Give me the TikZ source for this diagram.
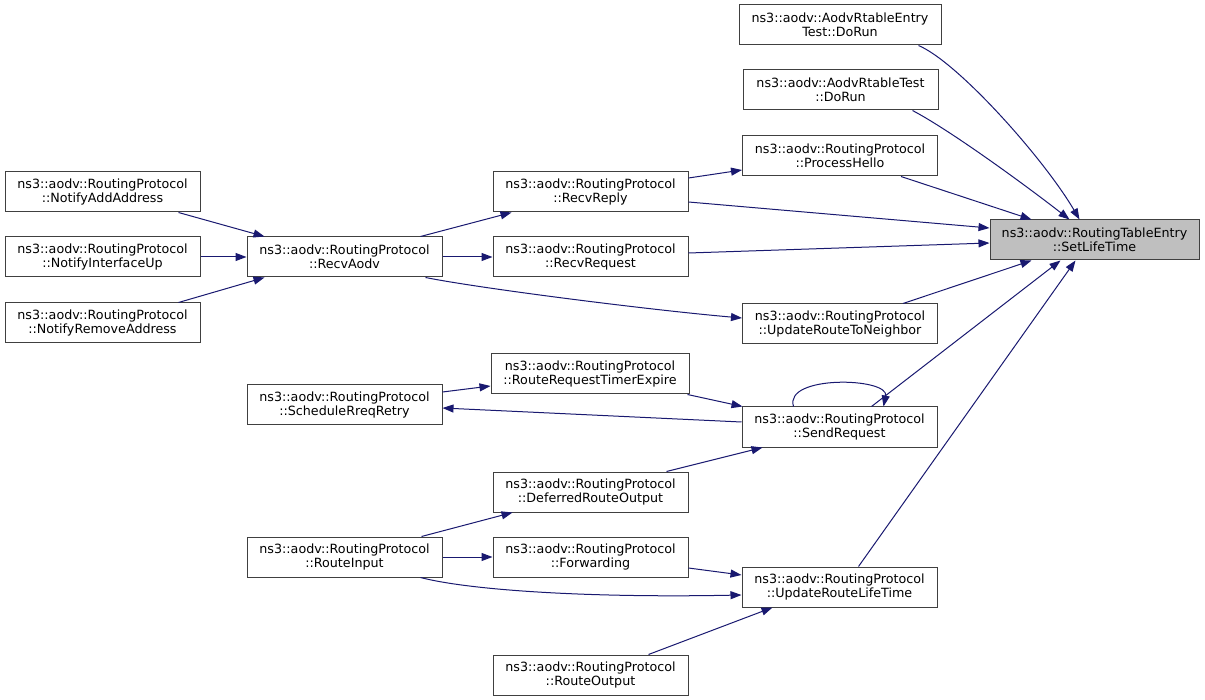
\documentclass[tikz,border=0pt]{standalone}
\usepackage{fontspec}
\setmainfont{DejaVu Sans}
\usetikzlibrary{arrows.meta}
\definecolor{edgeblue}{HTML}{191970}
\definecolor{boxgray}{HTML}{BFBFBF}
\definecolor{boxline}{HTML}{404040}
\begin{document}
\begin{tikzpicture}[x=1pt,y=-1pt,
  fn/.style={draw=boxline, fill=white, line width=1pt, inner sep=0pt, align=center,
    font=\fontsize{12.7}{14.5}\selectfont, minimum height=40pt, minimum width=195pt},
  calledge/.style={draw=edgeblue, line width=1pt, -{Triangle[length=11pt,width=8pt]}}]
\useasboundingbox[fill=white] (0,0) rectangle (1205,700);
% nodes
\node[fn, fill=boxgray, minimum width=209pt] (tgt) at (1094.5,240) {ns3::aodv::RoutingTableEntry\\::SetLifeTime};
\node[fn, minimum width=202pt] (eT) at (840,25) {ns3::aodv::AodvRtableEntry\\Test::DoRun};
\node[fn] (rT) at (840.5,90) {ns3::aodv::AodvRtableTest\\::DoRun};
\node[fn] (pH) at (840,156) {ns3::aodv::RoutingProtocol\\::ProcessHello};
\node[fn] (uN) at (840,324) {ns3::aodv::RoutingProtocol\\::UpdateRouteToNeighbor};
\node[fn] (nA) at (102.5,192) {ns3::aodv::RoutingProtocol\\::NotifyAddAddress};
\node[fn] (nI) at (102.5,257) {ns3::aodv::RoutingProtocol\\::NotifyInterfaceUp};
\node[fn] (nR) at (102.5,323) {ns3::aodv::RoutingProtocol\\::NotifyRemoveAddress};
\node[fn] (rA) at (344.5,257) {ns3::aodv::RoutingProtocol\\::RecvAodv};
\node[fn] (rRep) at (590.5,192) {ns3::aodv::RoutingProtocol\\::RecvReply};
\node[fn] (rReq) at (590.5,257) {ns3::aodv::RoutingProtocol\\::RecvRequest};
\node[fn, minimum width=198pt] (rTE) at (590,374) {ns3::aodv::RoutingProtocol\\::RouteRequestTimerExpire};
\node[fn] (sR) at (344.5,405) {ns3::aodv::RoutingProtocol\\::ScheduleRreqRetry};
\node[fn] (sQ) at (839.5,427) {ns3::aodv::RoutingProtocol\\::SendRequest};
\node[fn] (dR) at (590.5,492) {ns3::aodv::RoutingProtocol\\::DeferredRouteOutput};
\node[fn] (fw) at (590.5,557) {ns3::aodv::RoutingProtocol\\::Forwarding};
\node[fn] (rO) at (590.5,675) {ns3::aodv::RoutingProtocol\\::RouteOutput};
\node[fn] (rI) at (344.5,557) {ns3::aodv::RoutingProtocol\\::RouteInput};
\node[fn] (uL) at (839.5,587) {ns3::aodv::RoutingProtocol\\::UpdateRouteLifeTime};
% edges into target
\draw[calledge] ([xshift=-23pt]eT.south east) .. controls +(40,17) and +(-35,-60) .. ([xshift=90pt]tgt.north west);
\draw[calledge] ([xshift=-26pt]rT.south east) .. controls +(38,20) and +(-45,-35) .. ([xshift=80pt]tgt.north west);
\draw[calledge] ([xshift=-37pt]pH.south east) -- ([xshift=42pt]tgt.north west);
\draw[calledge] ([yshift=-10pt]rRep.east) -- ([yshift=12pt]tgt.west);
\draw[calledge] ([yshift=4pt]rReq.east) -- ([yshift=-3pt]tgt.west);
\draw[calledge] ([xshift=-35pt]uN.north east) -- ([xshift=42pt]tgt.south west);
\draw[calledge] ([xshift=-66pt]sQ.north east) -- ([xshift=71pt]tgt.south west);
\draw[calledge] ([xshift=-79pt]uL.north east) -- ([xshift=86pt]tgt.south west);
% other edges
\draw[calledge] ([yshift=14pt]rRep.east) -- ([yshift=-14pt]pH.west);
\draw[calledge] ([xshift=-22pt]rA.north east) -- ([xshift=19pt]rRep.south west);
\draw[calledge] (rA.east) -- (rReq.west);
\draw[calledge] ([xshift=-17pt]rA.south east) .. controls +(55,11) and +(-92,-8) .. ([yshift=6pt]uN.west);
\draw[calledge] ([xshift=-22pt]nA.south east) -- ([xshift=18pt]rA.north west);
\draw[calledge] (nI.east) -- (rA.west);
\draw[calledge] ([xshift=-22pt]nR.north east) -- ([xshift=18pt]rA.south west);
\draw[calledge] ([yshift=13pt]sR.east) -- ([yshift=-12pt]rTE.west);
\draw[calledge] ([xshift=-2pt]rTE.south east) -- ([xshift=1pt]sQ.north west);
\draw[calledge] ([yshift=5pt]sQ.west) -- ([yshift=-3pt]sR.east);
\draw[calledge] ([xshift=52pt]sQ.north west) .. controls +(-10,-32) and +(6,-29) .. ([xshift=142pt]sQ.north west);
\draw[calledge] ([xshift=-22pt]dR.north east) -- ([xshift=21pt]sQ.south west);
\draw[calledge] ([xshift=-21pt]rI.north east) -- ([xshift=20pt]dR.south west);
\draw[calledge] (rI.east) -- (fw.west);
\draw[calledge] ([xshift=-22pt]rI.south east) .. controls +(50,13) and +(-150,3) .. ([yshift=-8pt]uL.west);
\draw[calledge] ([yshift=-11pt]fw.east) -- ([yshift=12pt]uL.west);
\draw[calledge] ([xshift=-40pt]rO.north east) -- ([xshift=31pt]uL.south west);
\end{tikzpicture}
\end{document}
